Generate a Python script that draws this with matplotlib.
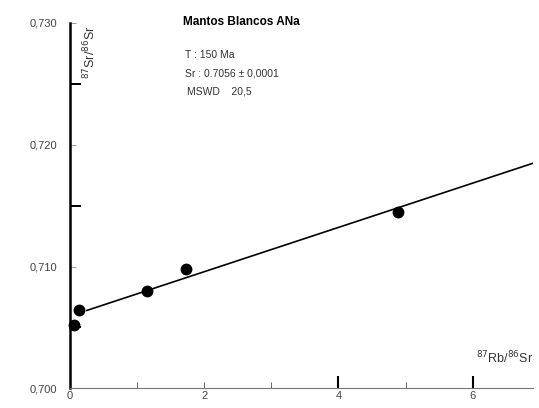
import matplotlib
matplotlib.use("Agg")
import matplotlib.pyplot as plt

plt.rcParams['font.family'] = ['Liberation Sans', 'DejaVu Sans']

# measured points (87Rb/86Sr, 87Sr/86Sr)
rb_sr = [0.06, 0.13, 1.15, 1.73, 4.88]
sr_sr = [0.7052, 0.7064, 0.7080, 0.7098, 0.7145]

# isochron line end points
line_x = [0.25, 6.91]
line_y = [0.7064, 0.7185]

xtick_major = [4, 6]
xtick_minor = [0, 1, 2, 3, 5]
xtick_minor_labels = ['0', '', '2', '', '']
ytick_major = [0.700, 0.710, 0.720, 0.730]
ytick_labels = ['0,700', '0,710', '0,720', '0,730']
ytick_minor = [0.705, 0.715, 0.725]

fig = plt.figure(figsize=(5.39, 4.08), dpi=100)
ax = fig.add_axes([0.130, 0.048, 0.859, 0.896])

ax.plot(line_x, line_y, color='black', lw=1.2)
ax.plot(rb_sr, sr_sr, 'o', color='black', ms=7.5, clip_on=False, zorder=3)

ax.set_xlim(0, 6.9)
ax.set_ylim(0.700, 0.730)

for s in ['top', 'right']:
    ax.spines[s].set_visible(False)
ax.spines['left'].set_linewidth(1.8)
ax.spines['bottom'].set_linewidth(0.8)
ax.spines['bottom'].set_color('#777777')

ax.set_xticks(xtick_major, labels=['4', '6'])
ax.set_xticks(xtick_minor, labels=xtick_minor_labels, minor=True)
ax.set_yticks(ytick_major, labels=ytick_labels)
ax.set_yticks(ytick_minor, labels=[], minor=True)

ax.tick_params(axis='x', which='major', direction='in', length=9, width=1.5,
               pad=2, labelsize=8, labelcolor='#444444', color='black')
ax.tick_params(axis='x', which='minor', direction='in', length=4, width=0.7,
               pad=2, labelsize=8, labelcolor='#444444', color='#666666')
ax.tick_params(axis='y', which='major', direction='in', length=4, width=0.6,
               pad=9, labelsize=8, labelcolor='#444444', color='#888888')
ax.tick_params(axis='y', which='minor', direction='in', length=8, width=1.4,
               color='black')

fig.text(90 / 539, 1 - 25 / 408, r'$^{87}$Sr/$^{86}$Sr', rotation=90,
         ha='center', va='top', fontsize=9, color='#333333')
fig.text(533 / 539, 1 - 358 / 408, r'$^{87}$Rb/$^{86}$Sr',
         ha='right', va='center', fontsize=9, color='#333333')

fig.text(183 / 539, 1 - 22 / 408, 'Mantos Blancos ANa', fontweight='bold',
         ha='left', va='center', fontsize=8.5, color='black')
fig.text(185 / 539, 1 - 55 / 408, 'T : 150 Ma', ha='left', va='center',
         fontsize=7.5, color='#333333')
fig.text(185 / 539, 1 - 74 / 408, 'Sr : 0.7056 ± 0,0001', ha='left', va='center',
         fontsize=7.5, color='#333333')
fig.text(187 / 539, 1 - 91 / 408, 'MSWD    20,5', ha='left', va='center',
         fontsize=7.5, color='#333333')

fig.savefig('out.png', dpi=100)
